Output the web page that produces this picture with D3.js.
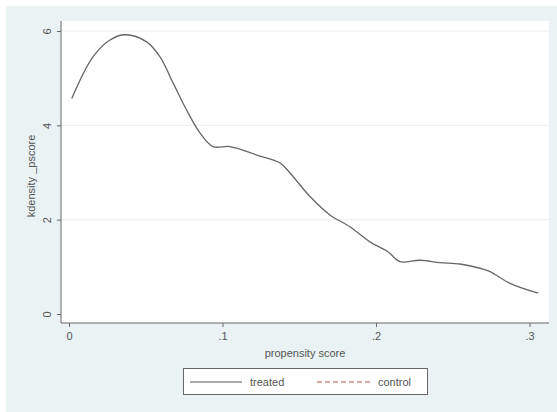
<!DOCTYPE html>
<html>
<head>
<meta charset="utf-8">
<script src="https://cdn.jsdelivr.net/npm/d3@7"></script>
<style>
  body { margin: 0; background: #ffffff; }
  text { font-family: "Liberation Sans", Arial, sans-serif; fill: #555; }
</style>
</head>
<body>
<div id="chart"></div>
<script>
// kdensity of the propensity score
const pscore = [0.0018, 0.0156, 0.0267, 0.0365, 0.0506, 0.0593, 0.0678, 0.0767, 0.0853, 0.0938,
                0.1049, 0.1223, 0.1375, 0.144, 0.157, 0.170, 0.183, 0.196, 0.2078, 0.2156,
                0.2287, 0.2417, 0.2547, 0.2678, 0.2743, 0.2873, 0.3057];
const treatedDensity = [4.57, 5.45, 5.81, 5.92, 5.77, 5.45, 4.90, 4.32, 3.84, 3.55,
                        3.55, 3.37, 3.20, 2.99, 2.49, 2.10, 1.85, 1.53, 1.32, 1.11,
                        1.14, 1.09, 1.06, 0.97, 0.90, 0.65, 0.44];
const xTicks = [0, 0.1, 0.2, 0.3];
const xTickLabels = ["0", ".1", ".2", ".3"];
const yTicks = [0, 2, 4, 6];
const legendNames = ["treated", "control"];

const W = 557, H = 412;
const plot = { left: 61, right: 549, top: 21, bottom: 323 };

const svg = d3.select("#chart").append("svg")
    .attr("width", W)
    .attr("height", H);

// outer graph region
svg.append("rect")
    .attr("x", 6).attr("y", 6)
    .attr("width", W - 6).attr("height", H - 6)
    .attr("fill", "#eaf2f3");

// plot region
svg.append("rect")
    .attr("x", plot.left).attr("y", plot.top)
    .attr("width", plot.right - plot.left).attr("height", plot.bottom - plot.top)
    .attr("fill", "#ffffff");

const x = d3.scaleLinear().domain([0, 0.3]).range([69, 529.5]);
const y = d3.scaleLinear().domain([0, 6]).range([314, 31]);

// gridlines
svg.append("g").selectAll("line")
    .data(yTicks.filter(d => d > 0))
    .enter().append("line")
    .attr("x1", plot.left).attr("x2", plot.right)
    .attr("y1", d => y(d)).attr("y2", d => y(d))
    .attr("stroke", "#eaf2f3")
    .attr("stroke-width", 1.2);

// y axis
const yAxis = svg.append("g")
    .attr("transform", `translate(${plot.left},0)`)
    .call(d3.axisLeft(y).tickValues(yTicks).tickSize(4).tickPadding(12).tickFormat(d3.format("d")));
yAxis.select(".domain").attr("d", `M0,${plot.top}V${plot.bottom}`).attr("stroke", "#666");
yAxis.selectAll(".tick line").attr("stroke", "#666");
yAxis.selectAll(".tick text")
    .attr("x", -17).attr("dy", null)
    .attr("text-anchor", "middle")
    .attr("transform", "rotate(-90)")
    .attr("x", 0).attr("y", 0)
    .each(function (d) {
        d3.select(this).attr("transform", `translate(-14,0) rotate(-90)`).attr("dy", "0.35em");
    })
    .style("font-size", "11px").attr("fill", "#555");

// x axis
const xAxis = svg.append("g")
    .attr("transform", `translate(0,${plot.bottom})`)
    .call(d3.axisBottom(x).tickValues(xTicks).tickSize(4).tickPadding(5)
        .tickFormat((d, i) => xTickLabels[i]));
xAxis.select(".domain").attr("d", `M${plot.left},0H${plot.right}`).attr("stroke", "#666");
xAxis.selectAll(".tick line").attr("stroke", "#666");
xAxis.selectAll(".tick text").style("font-size", "11px").attr("fill", "#555");

// axis titles
svg.append("text")
    .text("kdensity _pscore")
    .attr("transform", `translate(31,176) rotate(-90)`)
    .attr("text-anchor", "middle")
    .attr("dy", "0.35em")
    .style("font-size", "11px");

svg.append("text")
    .text("propensity score")
    .attr("x", (plot.left + plot.right) / 2)
    .attr("y", 353)
    .attr("text-anchor", "middle")
    .attr("dy", "0.35em")
    .style("font-size", "11px");

// density curve
const line = d3.line()
    .x((d, i) => x(pscore[i]))
    .y(d => y(d))
    .curve(d3.curveCatmullRom.alpha(0.5));

svg.append("path")
    .datum(treatedDensity)
    .attr("d", line)
    .attr("fill", "none")
    .attr("stroke", "#666")
    .attr("stroke-width", 1.3);

// legend
const legend = svg.append("g");
legend.append("rect")
    .attr("x", 183.5).attr("y", 368.5)
    .attr("width", 244).attr("height", 26)
    .attr("fill", "#ffffff")
    .attr("stroke", "#666");
legend.append("line")
    .attr("x1", 190).attr("x2", 242).attr("y1", 382).attr("y2", 382)
    .attr("stroke", "#555").attr("stroke-width", 1);
legend.append("text")
    .text(legendNames[0])
    .attr("x", 250).attr("y", 382).attr("dy", "0.35em")
    .style("font-size", "11px");
legend.append("line")
    .attr("x1", 317).attr("x2", 370).attr("y1", 382).attr("y2", 382)
    .attr("stroke", "#b0524a").attr("stroke-width", 1)
    .attr("stroke-dasharray", "5,3");
legend.append("text")
    .text(legendNames[1])
    .attr("x", 378).attr("y", 382).attr("dy", "0.35em")
    .style("font-size", "11px");
</script>
</body>
</html>
